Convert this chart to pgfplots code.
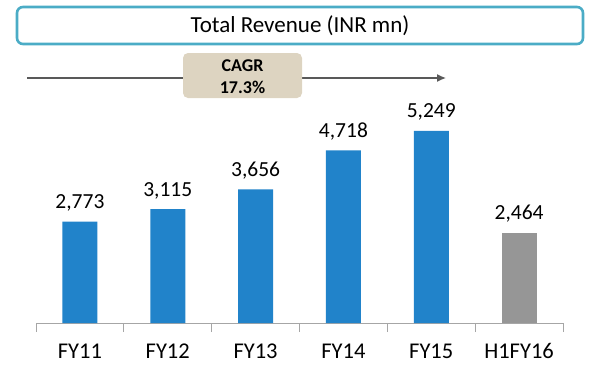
\documentclass[border=0pt]{standalone}
\usepackage{pgfplots}
\pgfplotsset{compat=1.18}
\usetikzlibrary{arrows.meta}
\usepackage{fontspec}
\setmainfont{Carlito}
\definecolor{barblue}{RGB}{33,131,202}
\definecolor{bargray}{RGB}{150,150,150}
\definecolor{teal}{RGB}{75,172,198}
\definecolor{tan}{RGB}{221,212,193}
\definecolor{axisgray}{RGB}{166,166,166}
\definecolor{arrowgray}{RGB}{89,89,89}
\begin{document}
\begin{tikzpicture}
\path[use as bounding box] (0pt,0pt) rectangle (602pt,-372pt);
% title box
\draw[teal, line width=2.6pt, rounded corners=6pt] (17pt,-7pt) rectangle (583pt,-44pt);
\node[font=\fontsize{23}{26}\selectfont, anchor=center] at (300pt,-26pt) {Total Revenue (INR mn)};
% CAGR arrow
\draw[arrowgray, line width=1.3pt, -{Latex[length=9pt,width=8pt]}] (27pt,-78pt) -- (446pt,-78pt);
\fill[tan, rounded corners=5pt] (183pt,-53pt) rectangle (302pt,-98pt);
\node[font=\fontsize{18}{20}\selectfont\bfseries] at (242.5pt,-65.5pt) {CAGR};
\node[font=\fontsize{18}{20}\selectfont\bfseries] at (242.5pt,-87.5pt) {17.3\%};
\begin{axis}[
  at={(36pt,-323pt)}, anchor=south west,
  scale only axis, width=527pt, height=200pt,
  xmin=-0.5, xmax=5.5, ymin=0, ymax=5467,
  axis x line*=bottom, axis y line=none,
  axis line style={draw=axisgray, line width=1pt, -},
  xtick={0,1,2,3,4,5},
  xticklabels={FY11,FY12,FY13,FY14,FY15,H1FY16},
  minor xtick={-0.5,0.5,1.5,2.5,3.5,4.5,5.5},
  major x tick style={draw=none},
  minor x tick style={draw=axisgray, line width=1pt},
  major tick length=0pt,
  minor tick length=9pt,
  tick align=outside,
  x tick label style={font=\fontsize{22.5}{25}\selectfont, anchor=base, yshift=-35pt},
  ybar, bar width=35pt, bar shift=0pt,
  clip=false,
  /pgf/number format/1000 sep={,},
  /pgf/number format/assume math mode=true,
  nodes near coords,
  every node near coord/.append style={font=\fontsize{21.5}{24}\selectfont, text=black, anchor=base, yshift=13pt, inner sep=0pt},
]
\addplot[fill=barblue, draw=none] coordinates {(0,2773) (1,3115) (2,3656) (3,4718) (4,5249)};
\addplot[fill=bargray, draw=none] coordinates {(5,2464)};
\end{axis}
\end{tikzpicture}
\end{document}
